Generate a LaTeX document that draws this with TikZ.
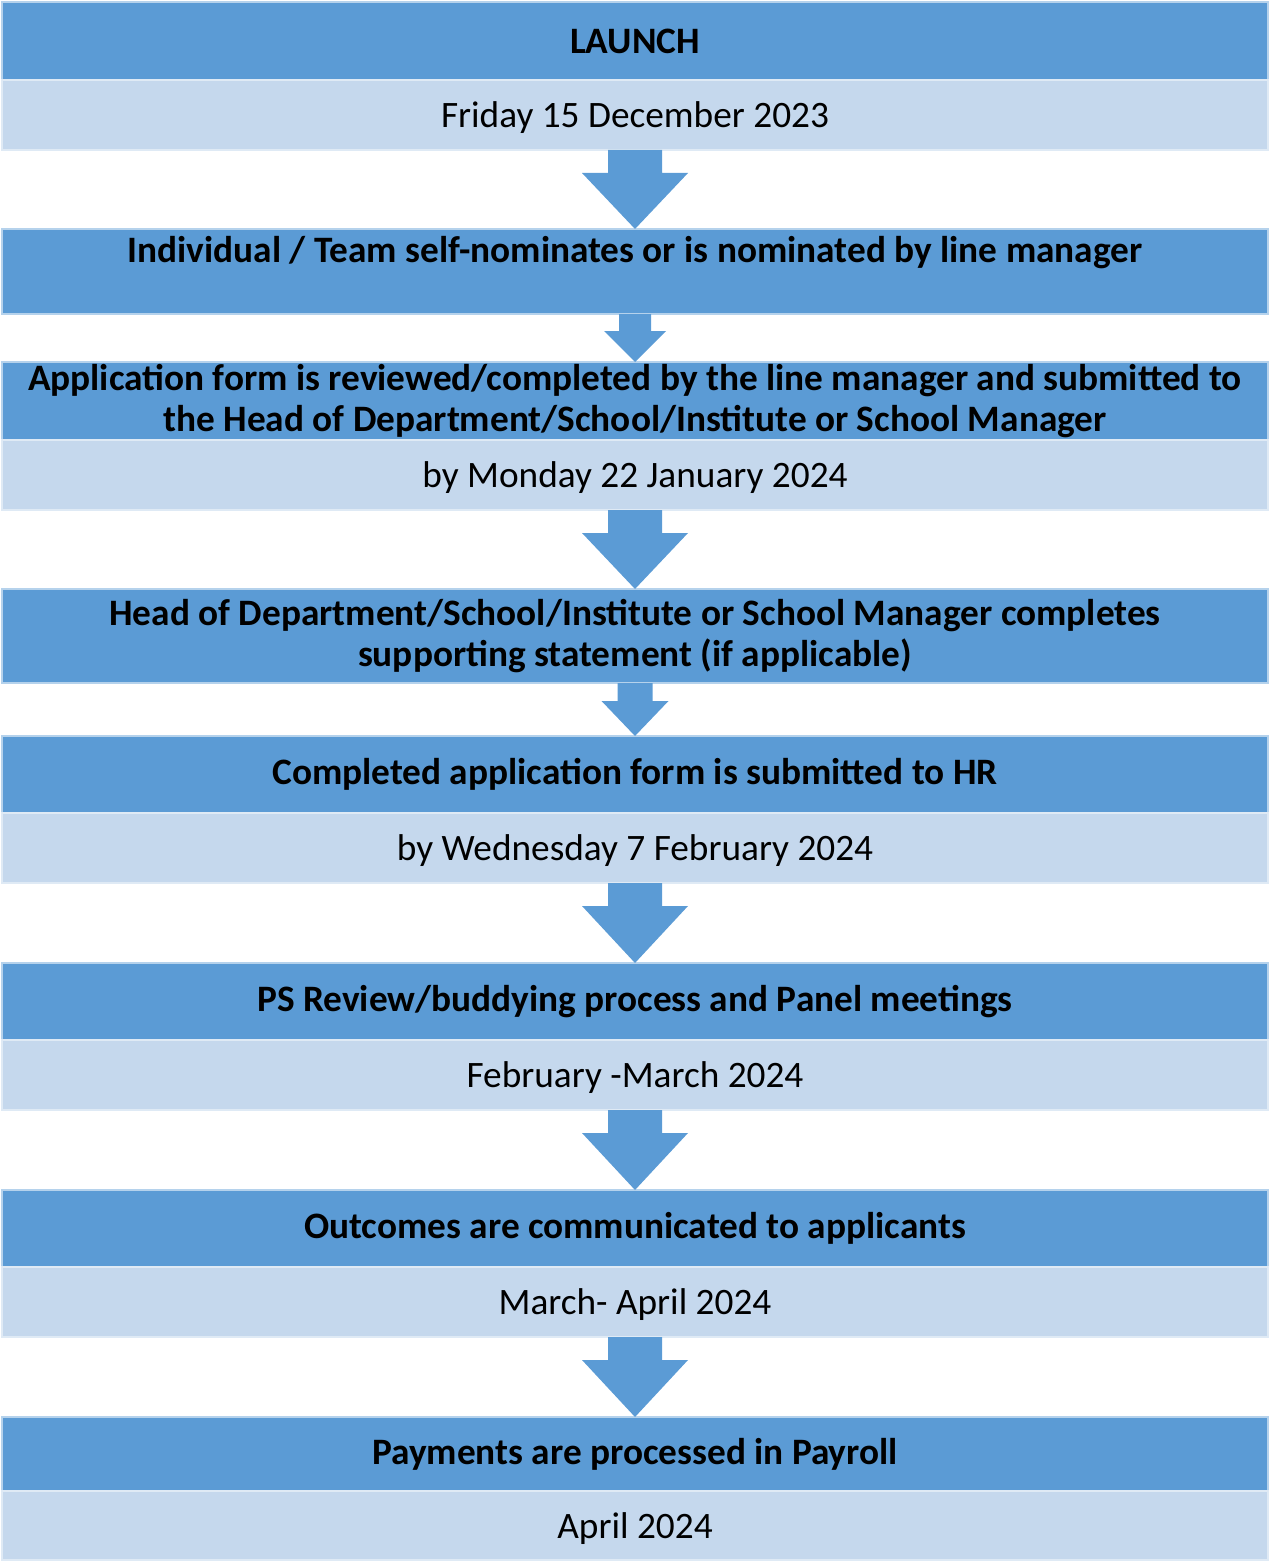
\documentclass[tikz,border=0pt]{standalone}
\usepackage{fontspec}
\setmainfont{Carlito}
\usetikzlibrary{calc}
\definecolor{dark}{HTML}{5B9BD5}
\definecolor{light}{HTML}{C5D8ED}
\newcommand\blockarrow[5]{%
  \fill[dark] ($(#1.south)+(-#3,0)$) -- ($(#1.south)+(-#3,#5)$) -- ($(#1.south)+(-#4,#5)$)
    -- (#2.north) -- ($(#1.south)+(#4,#5)$) -- ($(#1.south)+(#3,#5)$) -- ($(#1.south)+(#3,0)$) -- cycle;}
\begin{document}
\begin{tikzpicture}[x=1pt,y=-1pt,
  bar/.style={inner sep=0pt, outer sep=0pt, minimum width=1266pt, anchor=north west,
    align=center, line width=1.2pt},
  hdfont/.style={font=\fontsize{37.3}{41}\selectfont\bfseries},
  hd/.style={bar, fill=dark, draw=white!55!dark, hdfont},
  dt/.style={bar, fill=light, draw=white!45!light, text depth=0pt, font=\fontsize{37.3}{41}\selectfont}]
\useasboundingbox (0,0) rectangle (1268,1562);
\node[hd, minimum height=78pt] (b1) at (2,2) {LAUNCH};
\node[dt, minimum height=70pt] (d1) at (b1.south west) {Friday 15 December 2023};
\node[hd, minimum height=85pt] (b2) at (2,229) {};
\node[hdfont, anchor=base, inner sep=0pt] (b2t) at ($(b2.north)+(0,33)$) {Individual / Team self-nominates or is nominated by line manager};
\node[hd, minimum height=78pt] (b3) at (2,362) {Application form is reviewed/completed by the line manager and submitted to\\the Head of Department/School/Institute or School Manager};
\node[dt, minimum height=70pt] (d3) at (b3.south west) {by Monday 22 January 2024};
\node[hd, minimum height=94pt] (b4) at (2,589) {Head of Department/School/Institute or School Manager completes\\supporting statement (if applicable)};
\node[hd, minimum height=77pt] (b5) at (2,736) {Completed application form is submitted to HR};
\node[dt, minimum height=70pt] (d5) at (b5.south west) {by Wednesday 7 February 2024};
\node[hd, minimum height=77pt] (b6) at (2,963) {PS Review/buddying process and Panel meetings};
\node[dt, minimum height=70pt] (d6) at (b6.south west) {February -March 2024};
\node[hd, minimum height=77pt] (b7) at (2,1190) {Outcomes are communicated to applicants};
\node[dt, minimum height=70pt] (d7) at (b7.south west) {March- April 2024};
\node[hd, minimum height=74pt] (b8) at (2,1417) {Payments are processed in Payroll};
\node[dt, minimum height=69pt] (d8) at (b8.south west) {April 2024};
\blockarrow{d1}{b2}{27}{53}{23}
\blockarrow{b2}{b3}{16}{31}{17}
\blockarrow{d3}{b4}{27}{53}{23}
\blockarrow{b4}{b5}{17.5}{33.5}{18}
\blockarrow{d5}{b6}{27}{53}{23}
\blockarrow{d6}{b7}{27}{53}{23}
\blockarrow{d7}{b8}{27}{53}{23}
\end{tikzpicture}
\end{document}
